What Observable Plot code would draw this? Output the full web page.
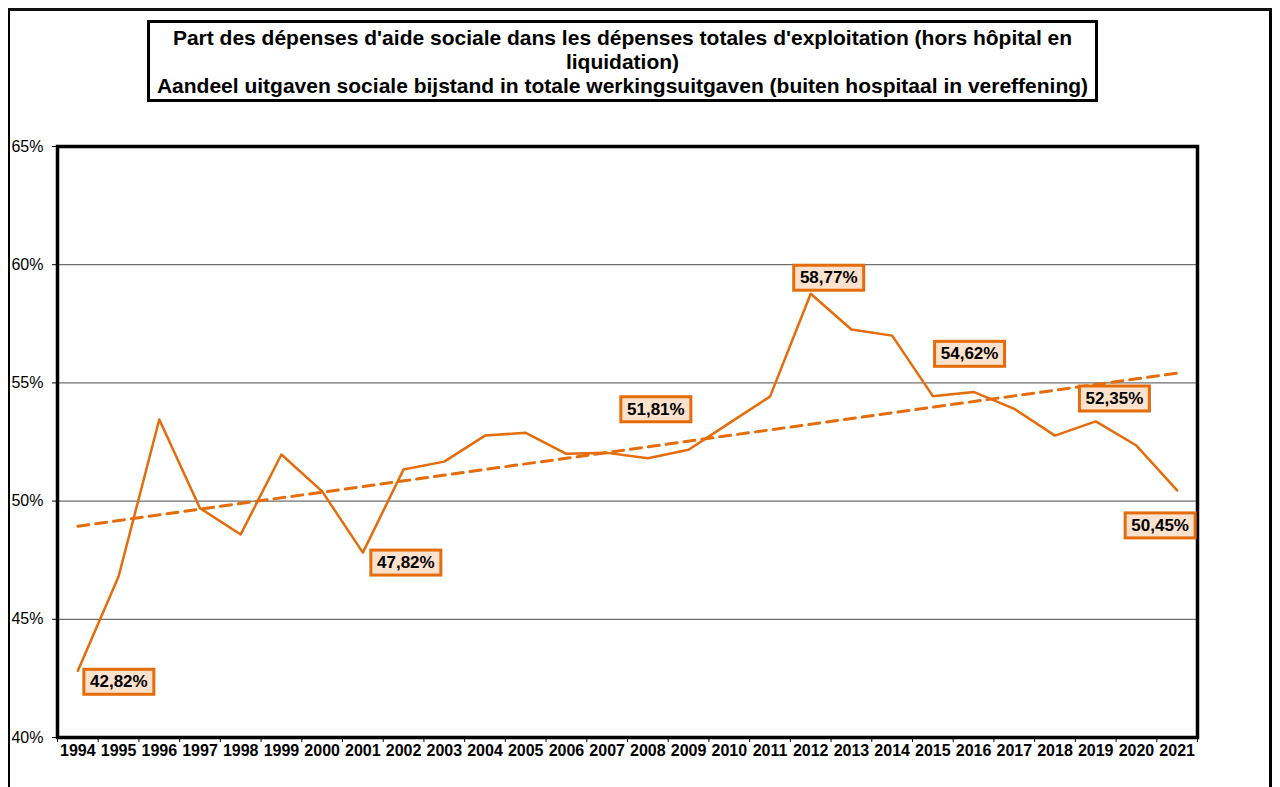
<!DOCTYPE html>
<html>
<head>
<meta charset="utf-8">
<script src="https://cdn.jsdelivr.net/npm/d3@7"></script>
<script src="https://cdn.jsdelivr.net/npm/@observablehq/plot@0.6"></script>
<style>
  html, body { margin: 0; padding: 0; background: #fff; }
  body { width: 1280px; height: 787px; overflow: hidden; position: relative; font-family: "Liberation Sans", Arial, sans-serif; }
  #outer { position: absolute; left: 8px; top: 8px; width: 1264px; height: 800px; border-left: 2px solid #000; border-top: 3px solid #111; border-right: 3px solid #000; box-sizing: border-box; }
  #title { position: absolute; left: 147px; top: 20px; width: 951px; height: 82px; border: 3px solid #000; box-sizing: border-box; text-align: center; font-weight: bold; font-size: 21px; line-height: 24px; padding-top: 3px; color: #000; }
  #chart { position: absolute; left: 0; top: 110px; }
</style>
</head>
<body>
<div id="outer"></div>
<div id="title"></div>
<div id="chart"></div>
<script>
const titleLines = [
  "Part des dépenses d'aide sociale dans les dépenses totales d'exploitation (hors hôpital en",
  "liquidation)",
  "Aandeel uitgaven sociale bijstand in totale werkingsuitgaven (buiten hospitaal in vereffening)"
];
const years = [1994, 1995, 1996, 1997, 1998, 1999, 2000, 2001, 2002, 2003, 2004, 2005, 2006, 2007,
               2008, 2009, 2010, 2011, 2012, 2013, 2014, 2015, 2016, 2017, 2018, 2019, 2020, 2021];
const shares = [42.82, 46.81, 53.45, 49.70, 48.59, 51.97, 50.41, 47.82, 51.34, 51.67, 52.77, 52.89, 52.00, 52.04,
                51.81, 52.17, 53.30, 54.42, 58.77, 57.26, 57.00, 54.44, 54.62, 53.90, 52.77, 53.37, 52.35, 50.45];
const labelledYears = [1994, 2001, 2008, 2012, 2016, 2020, 2021];
const yTicks = [40, 45, 50, 55, 60, 65];

document.getElementById("title").innerHTML = titleLines.join("<br>");

const data = years.map((year, i) => ({year, value: shares[i]}));
const fmt = v => v.toFixed(2).replace(".", ",") + "%";

// label placement offsets (pixels), as in the original
const labelOffsets = {1994: [41, 11], 2001: [43, 10], 2008: [8, -49], 2012: [18, -16], 2016: [-4, -38], 2020: [-22, -47], 2021: [-17, 35]};

const orange = "#E46C0A";
const boundaries = d3.range(years[0] - 0.5, years[years.length - 1] + 1, 1);

const labelMarks = labelledYears.map(yr => {
  const d = data.find(e => e.year === yr);
  const [dx, dy] = labelOffsets[yr];
  return Plot.text([d], {
    x: "year", y: "value", text: e => fmt(e.value),
    dx, dy, fontSize: 17, fontWeight: "bold", fill: "#000",
    textAnchor: "middle", lineAnchor: "middle", className: "dlabel"
  });
});

const chart = Plot.plot({
  width: 1280,
  height: 677,
  marginLeft: 57,
  marginRight: 83,
  marginTop: 36,
  marginBottom: 50,
  style: {fontFamily: "'Liberation Sans', Arial, sans-serif", color: "#000", background: "transparent", overflow: "visible"},
  x: {domain: [years[0] - 0.5, years[years.length - 1] + 0.5], label: null},
  y: {domain: [yTicks[0], yTicks[yTicks.length - 1]], label: null},
  marks: [
    Plot.gridY(yTicks.slice(1, -1), {stroke: "#6f6f6f", strokeOpacity: 1, strokeWidth: 1.2}),
    Plot.axisY(yTicks, {tickSize: 5, tickPadding: 9, fontSize: 16, tickFormat: d => d + "%", label: null}),
    Plot.axisX(boundaries, {tickSize: 5, tickFormat: () => "", label: null}),
    Plot.axisX(years, {tickSize: 0, tickPadding: 7, fontSize: 16, fontWeight: "bold", tickFormat: d => String(d), label: null}),
    Plot.linearRegressionY(data, {x: "year", y: "value", stroke: orange, strokeWidth: 3, strokeDasharray: "11,7", ci: 0}),
    Plot.line(data, {x: "year", y: "value", stroke: orange, strokeWidth: 2.5}),
    Plot.frame({stroke: "#000", strokeWidth: 3.5}),
    ...labelMarks
  ]
});
document.getElementById("chart").appendChild(chart);

// draw the label boxes behind each data label
chart.querySelectorAll("g.dlabel text").forEach(t => {
  const b = t.getBBox();
  const w = 70, h = 25;
  const cx = b.x + b.width / 2, cy = b.y + b.height / 2;
  const r = document.createElementNS("http://www.w3.org/2000/svg", "rect");
  r.setAttribute("x", cx - w / 2);
  r.setAttribute("y", cy - h / 2);
  r.setAttribute("width", w);
  r.setAttribute("height", h);
  r.setAttribute("fill", "#FCE1CC");
  r.setAttribute("stroke", orange);
  r.setAttribute("stroke-width", 3);
  const tr = t.getAttribute("transform");
  if (tr) r.setAttribute("transform", tr);
  t.parentNode.insertBefore(r, t);
});
</script>
</body>
</html>
